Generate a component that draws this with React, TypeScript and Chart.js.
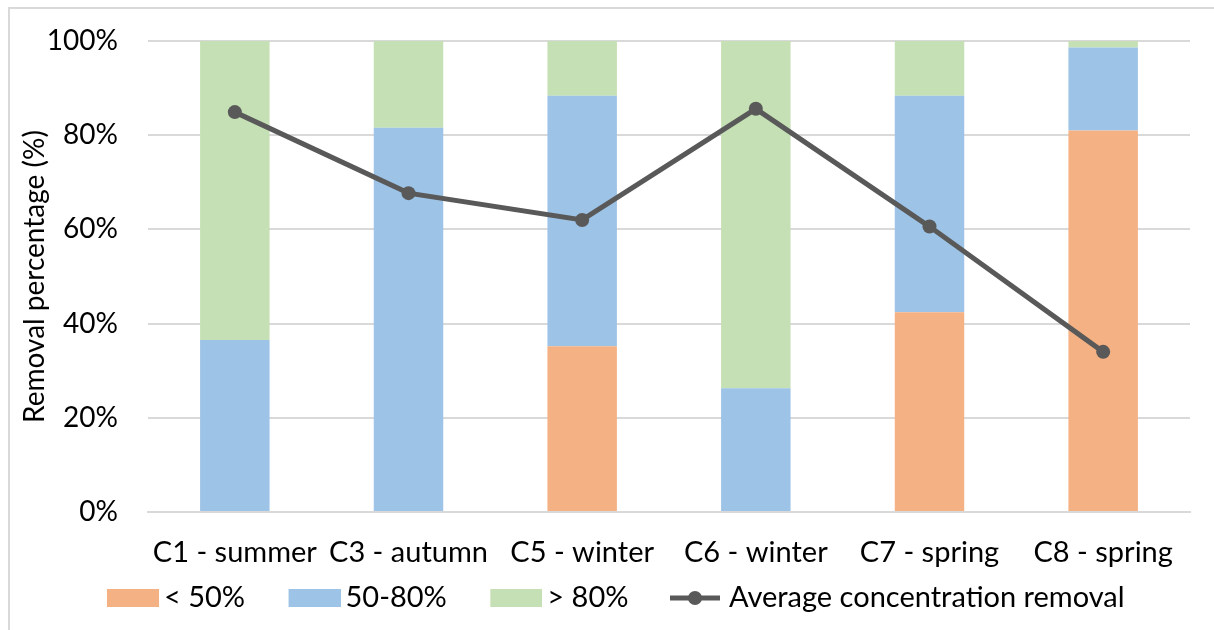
import React, { useEffect, useRef } from 'react';
import { Chart, registerables } from 'chart.js';

Chart.register(...registerables);

const categories = ['C1 - summer', 'C3 - autumn', 'C5 - winter', 'C6 - winter', 'C7 - spring', 'C8 - spring'];
const below50 = [0, 0, 35.2, 0, 42.4, 81.0];
const between50and80 = [36.5, 81.6, 53.2, 26.3, 46.0, 17.6];
const above80 = [63.5, 18.4, 11.6, 73.7, 11.6, 1.4];
const avgRemoval = [84.9, 67.7, 62.0, 85.6, 60.6, 34.0];
const seriesNames = ['< 50%', '50-80%', '> 80%', 'Average concentration removal'];
const yTickValues = [0, 20, 40, 60, 80, 100];

const ORANGE = '#F4B183';
const BLUE = '#9DC3E6';
const GREEN = '#C5E0B4';
const LINE = '#595959';
const GRID = '#D9D9D9';
const FONT = 'Lato';

const LEG_FONT = 29;
const LEG_PAD = 10;
const NOMINAL_W = 76;
const EXTRA = 9.5;
const IMG_W = NOMINAL_W + 2 * EXTRA;
const IMG_H = 20;

function makeBox(color: string): HTMLCanvasElement {
  const c = document.createElement('canvas');
  c.width = IMG_W;
  c.height = IMG_H;
  const ctx = c.getContext('2d')!;
  ctx.fillStyle = color;
  ctx.fillRect(IMG_W - 52, 1, 52, 18);
  return c;
}

function makeLineMarker(): HTMLCanvasElement {
  const c = document.createElement('canvas');
  c.width = IMG_W;
  c.height = IMG_H;
  const ctx = c.getContext('2d')!;
  const x0 = IMG_W - 54;
  const x1 = IMG_W - 4;
  ctx.strokeStyle = LINE;
  ctx.lineWidth = 5;
  ctx.beginPath();
  ctx.moveTo(x0, 10);
  ctx.lineTo(x1, 10);
  ctx.stroke();
  ctx.fillStyle = LINE;
  ctx.beginPath();
  ctx.arc((x0 + x1) / 2, 10, 7, 0, Math.PI * 2);
  ctx.fill();
  return c;
}

export default function App() {
  const ref = useRef<HTMLCanvasElement>(null);

  useEffect(() => {
    document.body.style.margin = '0';
    document.body.style.overflow = 'hidden';
    const markers = [makeBox(ORANGE), makeBox(BLUE), makeBox(GREEN), makeLineMarker()];
    const chart = new Chart(ref.current!, {
      type: 'bar',
      data: {
        labels: categories,
        datasets: [
          { type: 'bar', label: seriesNames[0], data: below50, backgroundColor: ORANGE, order: 1, barPercentage: 0.4, categoryPercentage: 1 },
          { type: 'bar', label: seriesNames[1], data: between50and80, backgroundColor: BLUE, order: 1, barPercentage: 0.4, categoryPercentage: 1 },
          { type: 'bar', label: seriesNames[2], data: above80, backgroundColor: GREEN, order: 1, barPercentage: 0.4, categoryPercentage: 1 },
          {
            type: 'line', label: seriesNames[3], data: avgRemoval, borderColor: LINE, backgroundColor: LINE,
            borderWidth: 5, pointRadius: 7, pointBackgroundColor: LINE, pointBorderWidth: 0, order: 0, tension: 0,
          } as any,
        ],
      },
      options: {
        animation: false,
        responsive: false,
        maintainAspectRatio: false,
        layout: { padding: { left: 8, right: 24, top: 41, bottom: 7.5 } },
        plugins: {
          tooltip: { enabled: false },
          legend: {
            position: 'bottom',
            labels: {
              font: { family: FONT, size: LEG_FONT },
              color: '#000',
              usePointStyle: true,
              pointStyleWidth: NOMINAL_W,
              boxHeight: 18,
              padding: LEG_PAD,
              generateLabels: (ch: any) =>
                ch.data.datasets.map((ds: any, i: number) => ({
                  text: ds.label,
                  pointStyle: markers[i],
                  fillStyle: 'transparent',
                  strokeStyle: 'transparent',
                  lineWidth: 0,
                  hidden: false,
                  datasetIndex: i,
                  fontColor: '#000',
                })),
            },
          },
        },
        scales: {
          x: {
            stacked: true,
            grid: { display: false, drawTicks: false },
            border: { display: true, color: GRID, width: 2 },
            ticks: { font: { family: FONT, size: 29 }, color: '#000', padding: 23, maxRotation: 0 },
            afterFit: (scale: any) => {
              scale.height = 71.5 - LEG_PAD;
              scale.paddingLeft = 0;
              scale.paddingRight = 0;
            },
          },
          y: {
            stacked: true,
            min: 0,
            max: 100,
            afterBuildTicks: (scale: any) => {
              scale.ticks = yTickValues.map((v) => ({ value: v }));
            },
            afterFit: (scale: any) => {
              scale.width = 140;
              scale.paddingTop = 0;
              scale.paddingBottom = 0;
            },
            grid: { color: GRID, lineWidth: 2, drawTicks: false },
            border: { display: false },
            ticks: {
              font: { family: FONT, size: 28 },
              color: '#000',
              padding: 30,
              callback: (v: any) => v + '%',
            },
            title: {
              display: true,
              text: 'Removal percentage (%)',
              font: { family: FONT, size: 28 },
              color: '#000',
              padding: { top: 10, bottom: 0 },
            },
          },
        },
      },
    });
    return () => chart.destroy();
  }, []);

  return (
    <div style={{ position: 'relative', width: 1214, height: 630, background: '#fff' }}>
      <canvas ref={ref} width={1214} height={630} style={{ display: 'block' }} />
      <div
        style={{
          position: 'absolute', left: 8, top: 7, width: 1300, height: 700,
          borderTop: `2px solid ${GRID}`, borderLeft: `2px solid ${GRID}`, pointerEvents: 'none',
        }}
      />
    </div>
  );
}
